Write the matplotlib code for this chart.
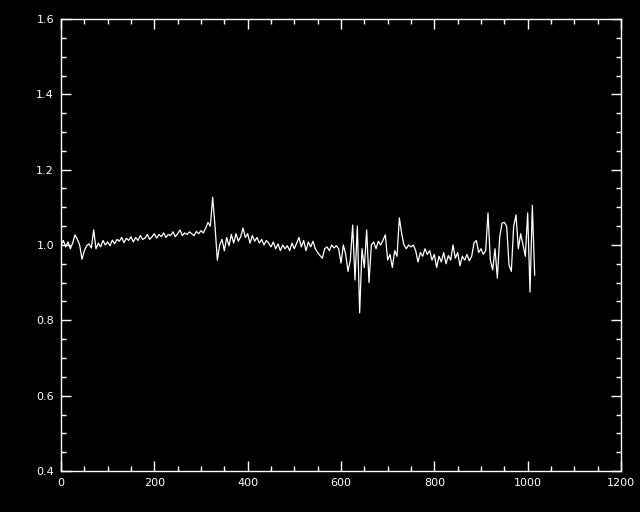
import matplotlib
matplotlib.use("Agg")
import matplotlib.pyplot as plt
import numpy as np
from matplotlib.ticker import MultipleLocator

# values, one sample every 5 units of x
step = 5
vals = [
    1.00, 1.012, 0.995, 1.008, 0.99, 1.005, 1.027, 1.015, 1.0, 0.962,
    0.985, 0.998, 1.003, 0.992, 1.04, 0.99, 1.005, 0.995, 1.012, 1.0,
    1.008, 0.998, 1.013, 1.003, 1.015, 1.01, 1.02, 1.006, 1.018, 1.012,
    1.022, 1.008, 1.02, 1.012, 1.025, 1.015, 1.018, 1.028, 1.015, 1.022,
    1.03, 1.018, 1.028, 1.022, 1.032, 1.02, 1.028, 1.025, 1.035, 1.022,
    1.03, 1.04, 1.025, 1.032, 1.028, 1.035, 1.03, 1.025, 1.036, 1.03,
    1.038, 1.032, 1.045, 1.06, 1.05, 1.127, 1.05, 0.96, 1.0, 1.015,
    0.985, 1.02, 0.998, 1.028, 1.005, 1.03, 1.01, 1.022, 1.045, 1.02,
    1.03, 1.005, 1.025, 1.01, 1.02, 1.005, 1.015, 1.0, 1.012, 1.005,
    0.995, 1.008, 0.99, 1.003, 0.985, 1.0, 0.99, 0.998, 0.985, 1.005,
    0.99, 1.005, 1.02, 0.995, 1.012, 0.985, 1.008, 0.995, 1.01, 0.99,
    0.98, 0.972, 0.965, 0.99, 0.995, 0.985, 1.0, 0.992, 0.998, 0.99,
    0.952, 1.0, 0.975, 0.93, 0.96, 1.053, 0.907, 1.05, 0.82, 0.99,
    0.94, 1.04, 0.9, 1.0, 1.008, 0.99, 1.01, 1.0, 1.013, 1.027,
    0.96, 0.975, 0.94, 0.985, 0.97, 1.072, 1.03, 1.0, 0.99, 1.0,
    0.995, 1.0, 0.985, 0.955, 0.98, 0.97, 0.99, 0.975, 0.985, 0.96,
    0.975, 0.94, 0.97, 0.955, 0.98, 0.95, 0.972, 0.96, 1.0, 0.965,
    0.98, 0.945, 0.97, 0.96, 0.975, 0.958, 0.97, 1.005, 1.012, 0.98,
    0.99, 0.975, 0.985, 1.085, 0.96, 0.934, 0.99, 0.912, 1.02, 1.058,
    1.06, 1.05, 0.947, 0.93, 1.05, 1.08, 0.99, 1.03, 1.0, 0.97,
    1.085, 0.875, 1.105, 0.92,
]
x = np.arange(len(vals)) * step

fig = plt.figure(figsize=(6.4, 5.12), dpi=100, facecolor='black')
ax = fig.add_axes([61/640, 41/512, 560/640, 452/512], facecolor='black')
ax.plot(x, vals, color='white', linewidth=0.9)

ax.set_xlim(0, 1200)
ax.set_ylim(0.4, 1.6)
ax.xaxis.set_major_locator(MultipleLocator(200))
ax.xaxis.set_minor_locator(MultipleLocator(50))
ax.yaxis.set_major_locator(MultipleLocator(0.2))
ax.yaxis.set_minor_locator(MultipleLocator(0.05))
ax.xaxis.set_major_formatter(plt.FuncFormatter(lambda v, p: '%d' % v))
ax.yaxis.set_major_formatter(plt.FuncFormatter(lambda v, p: '%.1f' % v))

for s in ax.spines.values():
    s.set_color('white')
    s.set_linewidth(1.0)
ax.tick_params(which='both', direction='in', colors='white', top=True, right=True,
               labelsize=8, width=1.0)
ax.tick_params(which='major', length=7.5, pad=5)
ax.tick_params(which='minor', length=3.8)

fig.savefig('out.png', dpi=100, facecolor='black')
